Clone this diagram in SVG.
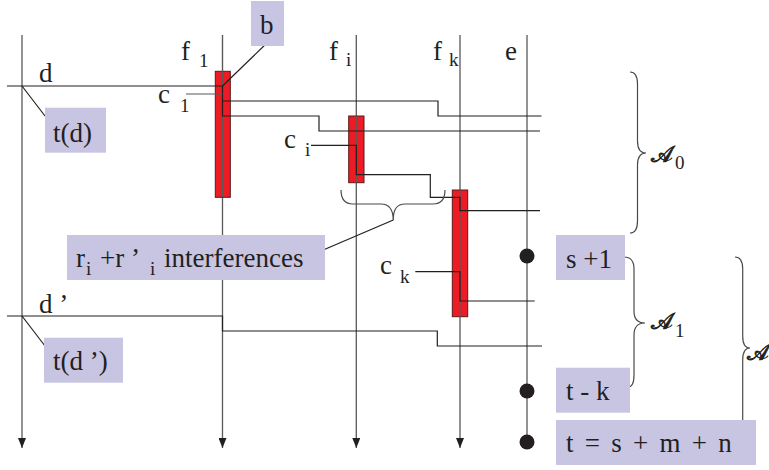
<svg xmlns="http://www.w3.org/2000/svg" width="769" height="470" viewBox="0 0 769 470">
<defs>
<marker id="arr" markerWidth="10" markerHeight="8" refX="10" refY="4" orient="auto" markerUnits="userSpaceOnUse" viewBox="0 0 10 8">
<path d="M0,0 L10,4 L0,8 Z" fill="#231f20"/>
</marker>
</defs>
<style>
.axis{stroke:#595959;stroke-width:1.3;fill:none}
.wire{stroke:#231f20;stroke-width:1.2;fill:none}
.thin{stroke:#595959;stroke-width:1.1;fill:none}
.brace{stroke:#4a4a4a;stroke-width:1.2;fill:none}
.lbl{fill:#c8c5e2}
.bar{fill:#ed1c24;stroke:#5a1a1a;stroke-width:1}
.t{font-family:"Liberation Serif","Times New Roman",serif;font-size:27px;fill:#231f20}
.s{font-size:19px}
.cal{font-family:"DejaVu Sans","Noto Sans",sans-serif;font-size:23px;fill:#231f20;stroke:#231f20;stroke-width:0.8}
.dot{fill:#231f20}
</style>

<g id="connectors">
<line class="axis" x1="22" y1="35" x2="22" y2="448" marker-end="url(#arr)"/>
<line class="axis" x1="222.5" y1="35" x2="222.5" y2="448" marker-end="url(#arr)"/>
<line class="axis" x1="356.3" y1="35" x2="356.3" y2="448" marker-end="url(#arr)"/>
<line class="axis" x1="460" y1="35" x2="460" y2="448" marker-end="url(#arr)"/>
<line class="axis" x1="527" y1="35" x2="527" y2="442"/>
</g>

<g id="bar-f1"><rect class="bar" x="215.3" y="71.3" width="15" height="126"/></g>
<g id="bar-fi"><rect class="bar" x="348.7" y="116" width="15.3" height="66.7"/></g>
<g id="bar-fk"><rect class="bar" x="452.3" y="190" width="15.4" height="126.7"/></g>

<g id="wires">
<line class="thin" x1="222.5" y1="35" x2="222.5" y2="197"/>
<line class="thin" x1="356.3" y1="116" x2="356.3" y2="183"/>
<line class="thin" x1="460" y1="190" x2="460" y2="317"/>
<path class="wire" d="M7,86 H222.5 V116 H319 V131 H540"/>
<path class="wire" d="M222.5,101 H438 V116 H541.5"/>
<line class="thin" x1="186" y1="94" x2="222.5" y2="94"/>
<path class="wire" d="M311,145.3 H356.3 V174.7 H430.3 V197.3 H460 V210.7 H540"/>
<path class="wire" d="M415.3,271.7 H460 V301 H534.7"/>
<path class="wire" d="M7,316 H222.5 V331 H437.3 V346 H542"/>
<line class="wire" x1="268" y1="42" x2="222.5" y2="86"/>
<line class="wire" x1="22" y1="86" x2="45" y2="116"/>
<line class="wire" x1="22" y1="316" x2="45" y2="346"/>
<path class="brace" d="M341,190 Q341,204 353,204 H381 Q393,204 393.3,220 Q393,204 405,204 H433 Q445,204 445,190"/>
<line class="wire" x1="393.3" y1="220" x2="315" y2="253.5"/>
</g>

<g id="dots">
<circle class="dot" cx="527" cy="256" r="7.5"/>
<circle class="dot" cx="527" cy="391" r="7.5"/>
<circle class="dot" cx="527" cy="442" r="7.5"/>
</g>

<g id="braces">
<path class="brace" d="M630,72 Q637.5,72 637.5,84 V141 Q637.5,153 646,153 Q637.5,153 637.5,165 V221 Q637.5,233 630,233"/>
<path class="brace" d="M624,257 Q634,257 634,269 V311 Q634,323 645,323 Q634,323 634,335 V375 Q634,387 628,387"/>
<path class="brace" d="M735,257 Q742.7,257 742.7,269 V336 Q742.7,348 750,348 Q742.7,348 742.7,360 V420"/>
</g>

<g id="label-b"><rect class="lbl" x="251" y="1" width="33" height="45"/><text class="t" x="260" y="34">b</text></g>
<g id="label-td"><rect class="lbl" x="45" y="107.7" width="61" height="45"/><text class="t" x="53" y="142">t(d)</text></g>
<g id="label-interf"><rect class="lbl" x="67" y="235" width="258" height="45"/>
<text class="t" x="76" y="267">r<tspan class="s" x="86" y="275">i</tspan><tspan x="100" y="267">+r ’</tspan><tspan class="s" x="150" y="275">i</tspan><tspan x="164" y="267">interferences</tspan></text></g>
<g id="label-tdp"><rect class="lbl" x="44" y="337.7" width="79" height="45"/><text class="t" x="53" y="370">t(d ’)</text></g>
<g id="label-s1"><rect class="lbl" x="556" y="235" width="69" height="45"/><text class="t" x="566" y="268">s +1</text></g>
<g id="label-tk"><rect class="lbl" x="556" y="367.7" width="74" height="45"/><text class="t" x="566" y="400">t - k</text></g>
<g id="label-t"><rect class="lbl" x="556" y="420" width="200" height="45"/>
<text class="t" x="566" y="452" style="word-spacing:4.5px">t = s + m + n</text></g>

<g id="axis-labels">
<text class="t" x="181" y="60">f<tspan class="s" x="199" y="67">1</tspan></text>
<text class="t" x="329" y="60">f<tspan class="s" x="346" y="66">i</tspan></text>
<text class="t" x="433" y="60">f<tspan class="s" x="449" y="66">k</tspan></text>
<text class="t" x="505" y="60">e</text>
<text class="t" x="39" y="82">d</text>
<text class="t" x="39" y="313">d ’</text>
<text class="t" x="158" y="103">c<tspan class="s" x="180" y="112">1</tspan></text>
<text class="t" x="284" y="148">c<tspan class="s" x="305" y="156">i</tspan></text>
<text class="t" x="380" y="274">c<tspan class="s" x="400" y="283">k</tspan></text>
</g>

<g id="set-labels">
<text class="cal" x="651" y="162">𝒜</text><text class="t s" x="675" y="169">0</text>
<text class="cal" x="651" y="329">𝒜</text><text class="t s" x="675" y="337">1</text>
<text class="cal" x="747" y="360">𝒜</text>
</g>
</svg>
